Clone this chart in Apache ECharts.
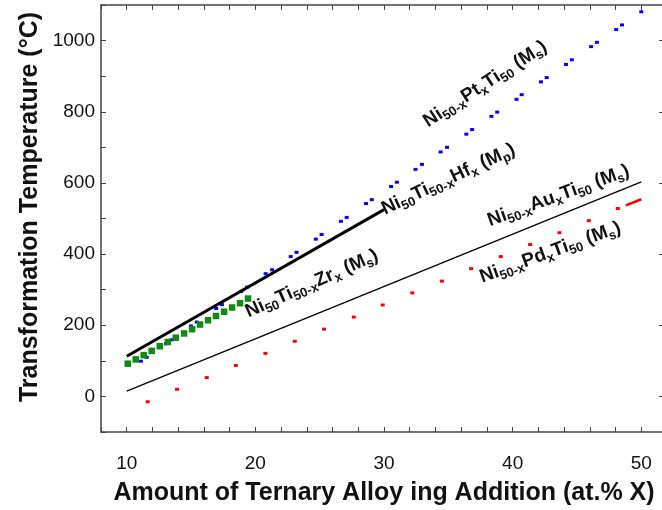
<!DOCTYPE html>
<html>
<head>
<meta charset="utf-8">
<script src="https://cdn.jsdelivr.net/npm/echarts@6/dist/echarts.min.js"></script>
<style>
  html, body { margin: 0; padding: 0; background: #fff; }
  #chart { width: 662px; height: 510px; }
</style>
</head>
<body>
<div id="chart"></div>
<script>
// Ni50-xPtxTi50 (Ms): blue points, [at.% X, °C]
const ptPoints = [
  [11.1, 99], [11.55, 110], [13.05, 148], [13.5, 159], [15.0, 198], [15.45, 209],
  [16.95, 247], [17.4, 258], [18.9, 295], [19.35, 307], [20.8, 345], [21.3, 356],
  [22.75, 393], [23.2, 405], [24.7, 442], [25.15, 455], [26.65, 492], [27.1, 503],
  [28.6, 542], [29.05, 553], [30.55, 590], [31.0, 602], [32.45, 638], [32.95, 652],
  [34.4, 687], [34.9, 700], [36.4, 737], [36.85, 750], [38.35, 787], [38.8, 799],
  [40.3, 835], [40.7, 848], [42.2, 884], [42.65, 896], [44.15, 933], [44.6, 946],
  [46.1, 983], [46.55, 995], [48.05, 1031], [48.5, 1044], [50.0, 1081]
];

// Ni50Ti50-xZrx (Ms): green squares
const zrX = [10.08, 10.7, 11.32, 11.94, 12.57, 13.19, 13.81, 14.46, 15.08, 15.7, 16.32, 16.94, 17.57, 18.19, 18.81, 19.43];
const zrY = [92, 104, 116, 128, 141, 153, 165, 177, 189, 202, 214, 226, 238, 250, 262, 275];

// Ni50-xPdxTi50 (Ms): red points and the closing segment
const pdX = [11.63, 13.91, 16.22, 18.48, 20.78, 23.06, 25.34, 27.65, 29.9, 32.2, 34.5, 36.77, 39.08, 41.36, 43.64, 45.92, 48.18];
const pdY = [-15, 20, 53, 87, 121, 155, 189, 223, 257, 291, 324, 359, 393, 427, 460, 494, 528];
const pdTail = [[48.8, 537], [50, 554]];

// Ni50Ti50-xHfx (Mp): thick line; Ni50-xAuxTi50 (Ms): thin line
const hfLine = [[10, 113], [30, 525]];
const auLine = [[10, 15], [50, 603]];

// Axis tick labels
const xTickLabels = [10, 20, 30, 40, 50];
const yTickLabels = [0, 200, 400, 600, 800, 1000];

// Curve captions: text, anchor [x, °C], angle in degrees
const captionText = [
  '{m|Ni}{s|50-x}{m|Pt}{s|x}{m|Ti}{s|50}{m| (M}{s|s}{m|)}',
  '{m|Ni}{s|50}{m|Ti}{s|50-x}{m|Hf}{s|x}{m| (M}{s|p}{m|)}',
  '{m|Ni}{s|50-x}{m|Au}{s|x}{m|Ti}{s|50}{m| (M}{s|s}{m|)}',
  '{m|Ni}{s|50-x}{m|Pd}{s|x}{m|Ti}{s|50}{m| (M}{s|s}{m|)}',
  '{m|Ni}{s|50}{m|Ti}{s|50-x}{m|Zr}{s|x}{m| (M}{s|s}{m|)}'
];
const captionAt = [[33.2, 768], [29.9, 524], [38.1, 492], [37.5, 333], [19.3, 235]];
const captionAngle = [33, 25, 20, 20, 24];

const FONT = '"Liberation Sans", Arial, Helvetica, sans-serif';
const AXIS_COLOR = '#444';
const TEXT_COLOR = '#111';

const chart = echarts.init(document.getElementById('chart'), null, { renderer: 'canvas' });

const captionRich = {
  m: { fontFamily: FONT, fontWeight: 'bold', fontSize: 19, lineHeight: 24, fill: TEXT_COLOR },
  s: { fontFamily: FONT, fontWeight: 'bold', fontSize: 13, lineHeight: 12, verticalAlign: 'bottom', fill: TEXT_COLOR }
};

const frameAxis = (extra) => Object.assign({
  type: 'value',
  axisLine: { show: true, onZero: false, lineStyle: { color: AXIS_COLOR, width: 1.5 } },
  axisTick: { show: true, inside: true, length: 5, lineStyle: { color: AXIS_COLOR, width: 1 } },
  splitLine: { show: false },
  axisLabel: { show: false }
}, extra);

chart.setOption({
  animation: false,
  backgroundColor: '#fff',
  grid: { left: 101, right: -5, top: 5, bottom: 78, containLabel: false, outerBoundsMode: 'none' },
  xAxis: [
    frameAxis({
      position: 'bottom', min: 8, max: 52, interval: 2,
      axisLabel: {
        show: true, margin: 22, color: TEXT_COLOR, fontFamily: FONT, fontSize: 19,
        formatter: (v) => (xTickLabels.includes(v) ? String(v) : '')
      }
    }),
    frameAxis({ position: 'top', min: 8, max: 52, interval: 2 })
  ],
  yAxis: [
    frameAxis({
      position: 'left', min: -100, max: 1100, interval: 100,
      axisLabel: {
        show: true, margin: 6, color: TEXT_COLOR, fontFamily: FONT, fontSize: 19,
        formatter: (v) => (yTickLabels.includes(v) ? String(v) : '')
      }
    }),
    frameAxis({
      position: 'right', min: -100, max: 1100, interval: 100,
      axisTick: { show: true, inside: true, length: 8, customValues: yTickLabels, lineStyle: { color: AXIS_COLOR, width: 1 } }
    })
  ],
  series: [
    {
      name: 'Pt', type: 'scatter', symbol: 'rect', symbolSize: [4, 3],
      itemStyle: { color: '#0000ff', opacity: 1 }, data: ptPoints, z: 2
    },
    {
      name: 'Zr', type: 'scatter', symbol: 'rect', symbolSize: [6.5, 6.5],
      itemStyle: { color: '#118a11', opacity: 1 }, data: zrX.map((x, i) => [x, zrY[i]]), z: 3
    },
    {
      name: 'Hf', type: 'line', data: hfLine, showSymbol: false, symbol: 'none',
      lineStyle: { color: '#000', width: 3 }, z: 4
    },
    {
      name: 'Au', type: 'line', data: auLine, showSymbol: false, symbol: 'none',
      lineStyle: { color: '#000', width: 1.3 }, z: 4
    },
    {
      name: 'Pd', type: 'scatter', symbol: 'rect', symbolSize: [4, 3],
      itemStyle: { color: '#ff0000', opacity: 1 }, data: pdX.map((x, i) => [x, pdY[i]]), z: 4
    },
    {
      name: 'Pd tail', type: 'line', data: pdTail, showSymbol: false, symbol: 'none',
      lineStyle: { color: '#ff0000', width: 2.5 }, z: 4
    }
  ]
});

// Axis titles and rotated curve captions (captions placed through the axes' scale)
const graphics = [
  {
    type: 'text', x: 384, y: 493, z: 10,
    style: {
      text: 'Amount of Ternary Alloy ing Addition (at.% X)',
      font: 'bold 25px ' + FONT, fill: TEXT_COLOR,
      align: 'center', verticalAlign: 'middle'
    }
  },
  {
    type: 'text', x: 30, y: 207, rotation: Math.PI / 2, z: 10,
    style: {
      text: 'Transformation Temperature (°C)',
      font: 'bold 25px ' + FONT, fill: TEXT_COLOR,
      align: 'center', verticalAlign: 'middle'
    }
  }
];
captionAt.forEach((p, i) => {
  const px = chart.convertToPixel({ xAxisIndex: 0, yAxisIndex: 0 }, p);
  graphics.push({
    type: 'text', x: px[0], y: px[1], rotation: captionAngle[i] * Math.PI / 180, z: 10,
    style: {
      text: captionText[i], rich: captionRich, fill: TEXT_COLOR,
      font: 'bold 19px ' + FONT, align: 'left', verticalAlign: 'middle'
    }
  });
});
chart.setOption({ graphic: graphics });
</script>
</body>
</html>
